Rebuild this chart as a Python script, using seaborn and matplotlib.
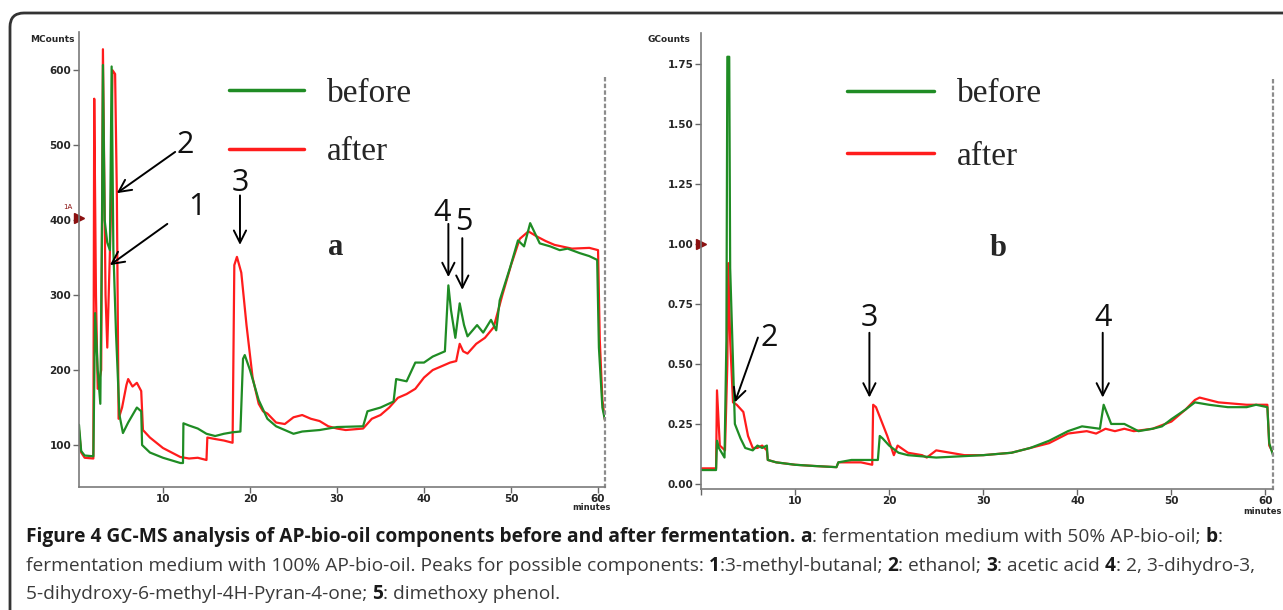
import numpy as np
import pandas as pd
import seaborn as sns
import matplotlib.pyplot as plt
from matplotlib.lines import Line2D
from matplotlib.patches import FancyBboxPatch
from matplotlib.ticker import MultipleLocator
from matplotlib import font_manager
from matplotlib.transforms import IdentityTransform

# Panel a (MCounts)
a_before_min = [0.35, 0.6, 1.0, 2.0, 2.2, 2.5, 2.8, 3.0, 3.1, 3.3, 3.6, 3.9, 4.1, 4.3, 4.6, 5.0, 5.4, 6.0, 6.5, 7.0,
                7.5, 7.6, 8.5, 10, 12, 12.3, 12.35, 13, 14, 15, 16, 17, 18, 18.9, 19.2, 19.4, 20, 21, 22, 23, 24, 25,
                26, 28, 30, 33, 33.5, 35, 36.5, 36.8, 38, 39, 40, 41, 42.4, 42.8, 43.1, 43.6, 44.1, 44.6, 45, 46.1,
                46.8, 47.7, 48.3, 48.7, 49.9, 50.8, 51.5, 52.2, 53.3, 54.5, 55.6, 56.5, 57.9, 59, 59.9, 60.1, 60.5, 60.8]
a_before_val = [127, 92, 86, 85, 276, 200, 155, 400, 607, 400, 370, 360, 605, 360, 250, 140, 116, 130, 140, 150,
                145, 100, 90, 83, 76, 76, 129, 126, 122, 115, 112, 115, 117, 118, 215, 220, 200, 160, 135, 125, 120, 115,
                118, 120, 124, 125, 145, 150, 158, 188, 185, 210, 210, 218, 225, 313, 280, 243, 289, 260, 245, 260,
                250, 267, 253, 293, 337, 373, 365, 396, 369, 365, 360, 362, 356, 352, 347, 230, 150, 133]
a_after_min = [0.35, 0.6, 1.0, 2.0, 2.1, 2.3, 2.5, 2.9, 3.1, 3.4, 3.6, 4.0, 4.2, 4.5, 4.7, 4.9, 5.3, 5.8, 6.0, 6.5,
               7.0, 7.5, 7.7, 8.5, 10, 12, 13, 14, 15, 15.1, 16, 17, 18, 18.2, 18.5, 19.0, 19.6, 20.3, 21, 21.5, 22,
               23, 24, 25, 26, 27, 28, 29, 30, 31, 33, 34, 35, 36, 37, 38, 39, 40, 41, 42, 43, 43.7, 44.1, 44.5, 45,
               46, 47, 48, 49, 50, 51, 52, 53, 54, 55, 57, 59, 60, 60.2, 60.5, 60.8]
a_after_val = [120, 90, 83, 82, 562, 300, 175, 200, 628, 300, 230, 400, 600, 595, 435, 135, 150, 180, 188, 178,
               183, 172, 120, 110, 96, 84, 82, 83, 80, 110, 108, 106, 103, 340, 351, 330, 260, 190, 155, 145, 142,
               130, 128, 137, 140, 135, 132, 125, 122, 120, 122, 135, 140, 150, 163, 168, 175, 190, 200, 205, 210, 212,
               235, 225, 222, 235, 243, 257, 300, 340, 375, 385, 378, 372, 367, 362, 363, 360, 240, 160, 133]

# Panel b (GCounts)
b_before_min = [0.0, 1.6, 1.7, 1.9, 2.5, 2.7, 2.8, 3.0, 3.1, 3.6, 4.2, 4.7, 5.5, 6.0, 6.5, 7.0, 7.1, 8, 10, 12, 14.4,
                14.6, 16, 17, 18.8, 19.0, 19.3, 20, 21, 22, 25, 30, 33, 35, 37, 39, 40.5, 42.4, 42.8, 43.6, 45,
                46.5, 48, 49, 50, 51.5, 52.5, 54, 56, 58, 59, 60.2, 60.4, 60.8]
b_before_val = [0.058, 0.058, 0.18, 0.15, 0.11, 0.6, 1.78, 1.78, 0.9, 0.25, 0.19, 0.15, 0.14, 0.16, 0.15, 0.16, 0.10,
                0.09, 0.08, 0.075, 0.07, 0.09, 0.10, 0.10, 0.10, 0.20, 0.19, 0.16, 0.13, 0.12, 0.11, 0.12, 0.13, 0.15,
                0.18, 0.22, 0.24, 0.23, 0.33, 0.25, 0.25, 0.22, 0.23, 0.24, 0.27, 0.31, 0.34, 0.33, 0.32, 0.32, 0.33,
                0.32, 0.17, 0.12]
b_after_min = [0.0, 1.6, 1.7, 2.0, 2.55, 2.8, 2.9, 3.1, 3.4, 3.8, 4.5, 5.0, 5.5, 6.0, 6.5, 7.0, 7.1, 8, 10, 12, 14.4,
               14.6, 17, 18.2, 18.3, 18.6, 19, 19.8, 20.5, 20.9, 22, 23.5, 24, 25, 26.5, 28, 30, 33, 35, 37, 39, 41,
               42, 43, 44, 45, 46, 48, 50, 51.5, 52.5, 53, 55, 58, 60.2, 60.4, 60.8]
b_after_val = [0.065, 0.065, 0.39, 0.16, 0.14, 0.5, 0.92, 0.6, 0.34, 0.33, 0.30, 0.20, 0.15, 0.15, 0.16, 0.14, 0.10,
               0.09, 0.08, 0.075, 0.07, 0.09, 0.09, 0.08, 0.33, 0.32, 0.28, 0.20, 0.12, 0.16, 0.13, 0.12, 0.11, 0.14,
               0.13, 0.12, 0.12, 0.13, 0.15, 0.17, 0.21, 0.22, 0.21, 0.23, 0.22, 0.23, 0.22, 0.23, 0.26, 0.31, 0.35,
               0.36, 0.34, 0.33, 0.33, 0.16, 0.13]

# peak labels: (label, text position, arrow tail, arrow head) in data units
a_peaks = [("2", (12.6, 500), (11.4, 491), (4.7, 436)),
           ("1", (13.9, 417), (10.5, 395), (3.9, 340)),
           ("3", (18.85, 449), (18.85, 433), (18.85, 367)),
           ("4", (42.1, 409), (42.8, 395), (42.8, 324)),
           ("5", (44.6, 397), (44.4, 376), (44.4, 307))]
b_peaks = [("2", (7.2, 0.61), (6.05, 0.61), (3.6, 0.34)),
           ("3", (17.9, 0.69), (17.9, 0.63), (17.9, 0.36)),
           ("4", (42.7, 0.69), (42.7, 0.63), (42.7, 0.36))]

caption = [
    [("Figure 4 GC-MS analysis of AP-bio-oil components before and after fermentation. ", True), ("a", True),
     (": fermentation medium with 50% AP-bio-oil; ", False), ("b", True), (":", False)],
    [("fermentation medium with 100% AP-bio-oil. Peaks for possible components: ", False), ("1", True),
     (":3-methyl-butanal; ", False), ("2", True), (": ethanol; ", False), ("3", True), (": acetic acid ", False),
     ("4", True), (": 2, 3-dihydro-3,", False)],
    [("5-dihydroxy-6-methyl-4H-Pyran-4-one; ", False), ("5", True), (": dimethoxy phenol.", False)],
]

GREEN = "#1f8c24"
RED = "#ff1c1c"

sns.set_style("white")
plt.rcParams['font.family'] = ['DejaVu Sans']

installed = {f.name for f in font_manager.fontManager.ttflist}
cap_font = next(f for f in ["Liberation Sans Narrow", "Open Sans", "DejaVu Sans"] if f in installed)


def long_df(bm, bv, am, av):
    return pd.concat([
        pd.DataFrame({"minutes": am, "counts": av, "sample": "after"}),
        pd.DataFrame({"minutes": bm, "counts": bv, "sample": "before"}),
    ], ignore_index=True)


df_a = long_df(a_before_min, a_before_val, a_after_min, a_after_val)
df_b = long_df(b_before_min, b_before_val, b_after_min, b_after_val)

fig = plt.figure(figsize=(12.83, 6.10), dpi=100)
W, H = 1283, 610
axL = fig.add_axes([79 / W, (H - 487) / H, 526 / W, 455 / H])
axR = fig.add_axes([701 / W, (H - 489) / H, 572 / W, 456 / H])


def style_axis(ax, xlim, ylim, ymaj, ymin, fmt, right_top):
    ax.set_xlim(*xlim)
    ax.set_ylim(*ylim)
    ax.xaxis.set_major_locator(MultipleLocator(10))
    ax.xaxis.set_minor_locator(MultipleLocator(1))
    ax.yaxis.set_major_locator(MultipleLocator(ymaj))
    ax.yaxis.set_minor_locator(MultipleLocator(ymin))
    ax.yaxis.set_major_formatter(fmt)
    ax.xaxis.set_major_formatter(lambda v, p: "" if v <= 0 else f"{v:.0f}")
    ax.set_xlabel("")
    ax.set_ylabel("")
    ax.spines['top'].set_visible(False)
    for s in ['left', 'bottom']:
        ax.spines[s].set_color("#7a7a7a")
        ax.spines[s].set_linewidth(1.2)
    ax.spines['right'].set_color("#8c8c8c")
    ax.spines['right'].set_linestyle((0, (1, 2)))
    ax.spines['right'].set_linewidth(1.6)
    ax.spines['right'].set_bounds(ylim[0], right_top)
    ax.tick_params(which='major', length=4, width=1, color="#666666", labelsize=7.5, pad=1.5)
    ax.tick_params(axis='x', which='major', pad=1)
    ax.tick_params(which='minor', length=2.5, width=1, color="#888888")
    ax.tick_params(left=True, bottom=True)
    for lab in ax.get_xticklabels() + ax.get_yticklabels():
        lab.set_fontweight('bold')


for ax, d in [(axL, df_a), (axR, df_b)]:
    sns.lineplot(data=d, x="minutes", y="counts", hue="sample", hue_order=["after", "before"],
                 palette={"after": RED, "before": GREEN}, estimator=None, sort=False,
                 linewidth=1.6, legend=False, ax=ax)

style_axis(axL, (0.35, 60.8), (44, 651), 100, 5, lambda v, p: f"{v:.0f}", 591)
style_axis(axR, (0.0, 60.8), (-0.021, 1.879), 0.25, 0.0125, lambda v, p: f"{v:.2f}", 1.70)

for ax, peaks in [(axL, a_peaks), (axR, b_peaks)]:
    for lab, txt, tail, head in peaks:
        ax.annotate("", xy=head, xytext=tail,
                    arrowprops=dict(arrowstyle="->", color="black", lw=1.4, mutation_scale=22,
                                    shrinkA=0, shrinkB=0))
        ax.text(*txt, lab, ha="center", va="center", fontsize=22, family="Open Sans", color="#111111")

axL.text(29.9, 363, "a", ha="center", va="center", fontsize=22, fontweight="bold", family="Liberation Serif")
axR.text(31.6, 0.98, "b", ha="center", va="center", fontsize=22, fontweight="bold", family="Liberation Serif")

# injection markers on the y axes
axL.plot([0.35], [403], marker=">", color="#8b1010", markersize=7, clip_on=False)
axL.text(-0.9, 418, "1A", fontsize=5, color="#8b1010", ha="center", va="center")
axR.plot([0.0], [1.0], marker=">", color="#8b1010", markersize=7, clip_on=False)

legend_handles = [Line2D([], [], color=GREEN, lw=2.5), Line2D([], [], color=RED, lw=2.5)]
for ax, anchor, spacing, hl in [(axL, (229 / W, 1 - 78 / H), 0.85, 2.25),
                                (axR, (847 / W, 1 - 79 / H), 0.95, 2.6)]:
    ax.legend(legend_handles, ["before", "after"], loc="upper left", bbox_to_anchor=anchor,
              bbox_transform=fig.transFigure, frameon=False, handlelength=hl, handletextpad=0.7,
              labelspacing=spacing, borderpad=0, borderaxespad=0,
              prop={"family": "Liberation Serif", "size": 24})

fig.text(75 / W, 1 - 39 / H, "MCounts", ha="right", va="center", fontsize=6.5, fontweight="bold")
fig.text(690 / W, 1 - 39 / H, "GCounts", ha="right", va="center", fontsize=6.5, fontweight="bold")
fig.text(591 / W, 1 - 508 / H, "minutes", ha="center", va="center", fontsize=6, fontweight="bold")
fig.text(1262 / W, 1 - 511 / H, "minutes", ha="center", va="center", fontsize=6, fontweight="bold")

# caption with mixed bold / regular runs
renderer = fig.canvas.get_renderer()
line_y = [542, 571, 599]
for segs, yy in zip(caption, line_y):
    x = 26
    for s, bold in segs:
        t = fig.text(x / W, 1 - yy / H, s, ha="left", va="baseline", fontsize=13.8, family=cap_font,
                     fontweight="bold" if bold else "normal", color="#1a1a1a" if bold else "#3a3a3a")
        x += t.get_window_extent(renderer).width

frame = FancyBboxPatch((10, -30), 1320, H - 13 + 30, boxstyle="round,pad=0,rounding_size=14",
                       transform=IdentityTransform(), fill=False, edgecolor="#333333", linewidth=2)
fig.patches.append(frame)

fig.savefig("out.png", dpi=100)
